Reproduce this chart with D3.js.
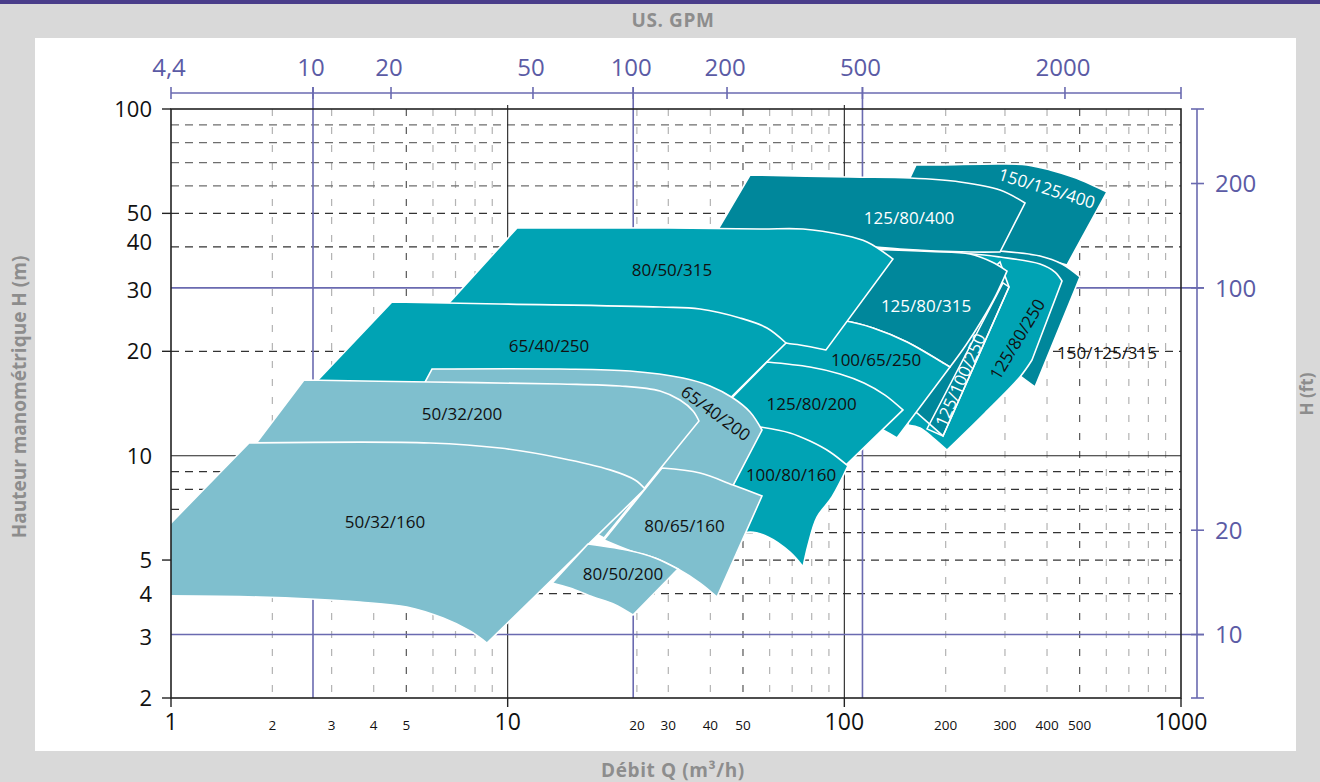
<!DOCTYPE html>
<html><head><meta charset="utf-8">
<script src="https://cdn.jsdelivr.net/npm/d3@7"></script>
<style>
html,body{margin:0;padding:0;background:#d9d9d9;}
svg{display:block;font-family:"Open Sans","Noto Sans",sans-serif;}
</style></head><body>
<svg id="chart" width="1320" height="782"></svg>
<script>
// ---------------- DATA ----------------
const xMinorGrid = [2,3,4,5,6,7,8,9, 24.2,30,40,50,60,70,80,90, 200,300,400,500,600,700,800,900];
const xDarkGrid = [5,50,500];
const xMajorLines = [10,100];
const xMajorLabels = [1,10,100,1000];
const xMinorLabelQ = [2,3,4,5,24.2,30,40,50,200,300,400,500];
const xMinorLabelText = ["2","3","4","5","20","30","40","50","200","300","400","500"];
const yDashed = [90,80,70,60,50,40,20,9,8,7,6,5,4];
const yLightDashed = [90,80,70,60];
const ySolid = [10];
const yLabels = [100,50,40,30,20,10,5,4,3,2];
const yTickMarks = [100,50,20,5,2];
const gpmLabels = ["4,4","10","20","50","100","200","500","2000"];
const gpmAtQ = [1,2.641,4.503,11.89,23.6,44.83,113.2,452.2];   // positions (m3/h)
const gpmFullLines = [2.641,23.6,113.2];                         // 10, 100, 500 GPM
const ftTicks = [200,100,20,10];
const ftFullLines = [100,10];
const metresPerFoot = 0.3048;

// pump envelopes: edges [top, right, bottom...] in (Q m3/h, H m); closed back to start
const env_150_125_400 = [
  [[163.3,68.96],[192.4,68.96],[290,69.4],[348.8,68.96],[408.2,66.7],[477.7,63.64],[536.6,60.8],[602.9,57.64]],
  [[602.9,57.64],[458.5,35.48]],
  [[458.5,35.48],[381.2,37.18],[290,38.17],[136.6,47.84]]];
const env_150_125_315 = [
  [[220.6,39.46],[290,38.94],[381.2,37.66],[443.1,35.71],[501.2,32.77]],
  [[501.2,32.77],[368.4,15.78]],
  [[368.4,15.78],[332.4,16.98],[290,18.88],[220.6,23.04]]];
const env_125_80_400 = [
  [[52.47,64.5],[103.9,63.64],[156.7,63.24],[220.6,61.6],[290,58.37],[344.1,53.55]],
  [[344.1,53.55],[290,38.68]],
  [[290,38.68],[236.2,38.68],[146.3,39.46],[124.2,40.0],[73.84,40.53],[37.27,36.68]]];
const env_125_80_250 = [
  [[179.7,38.17],[241.2,38.17],[290,37.41],[381.2,35.71],[422.4,33.86],[443.1,31.91]],
  [[443.1,31.91],[360.9,18.88]],
  [[360.9,18.88],[332.4,16.87],[261.7,13.28],[201.8,10.38]],
  [[201.8,10.38],[182.2,11.32],[167.8,12.02],[154.5,12.26]]];
const env_125_100_250 = [
  [[290,36.19],[308.4,30.66]],
  [[308.4,30.66],[196.4,11.40]],
  [[196.4,11.40],[164.4,13.28]],
  [[164.4,13.28],[146.3,14.47],[220.6,28.12]]];
const inner_125_100_250 = [[296.0,31.50],[308.4,30.66],[196.4,11.40],[176.0,11.94]];
const env_125_80_315 = [
  [[101.1,39.46],[124.2,39.32],[179.7,38.82],[236.2,38.17],[274.5,36.19],[304.2,34.08]],
  [[304.2,34.08],[282.2,29.07],[256.4,24.63],[229.8,20.86],[206.0,18.02]],
  [[206.0,18.02],[153.5,21.28],[121.7,23.36],[101.1,24.47],[90.66,24.63]]];
const env_100_65_250 = [
  [[73.84,24.96],[101.1,24.47],[121.7,23.36],[153.5,21.28],[196.4,18.51],[206.0,18.02]],
  [[206.0,18.02],[143.3,11.25]],
  [[143.3,11.25],[130.2,11.86],[97.07,13.55],[48.98,16.53]]];
const env_80_50_315 = [
  [[10.66,45.37],[28.35,45.37],[56.17,45.07],[75.40,45.07],[99.1,43.31],[116.8,41.35],[139.5,36.92]],
  [[139.5,36.92],[88.2,20.18]],
  [[88.2,20.18],[73.84,20.86],[67.10,21.14],[37.27,24.63],[5.49,22.29]]];
const env_65_40_250 = [
  [[4.53,27.76],[9.49,27.39],[28.35,26.85],[37.27,26.49],[48.98,24.96],[58.92,23.36],[67.10,21.14]],
  [[67.10,21.14],[37.27,12.02]],
  [[37.27,12.02],[9.49,12.68],[2.40,14.47]]];
const env_125_80_200 = [
  [[58.92,18.63],[79.07,18.02],[97.07,17.21],[114.4,16.21],[132.1,14.96],[149.3,13.55]],
  [[149.3,13.55],[101.1,9.40]],
  [[101.1,9.40],[79.07,10.74],[64.42,11.63],[56.17,12.02],[42.72,13.55]]];
const env_100_80_160 = [
  [[56.17,12.10],[68.96,11.63],[79.07,11.02],[90.66,10.25],[102.5,9.34]],
  [[102.5,9.34],[91.91,7.60],[82.96,6.65],[78.01,5.52],[75.40,4.78]],
  [[75.40,4.78],[68.96,5.27],[59.33,5.83],[52.47,6.02],[42.72,5.71]],
  [[42.72,5.71],[46.70,8.23]]];
const env_65_40_200 = [
  [[5.96,17.78],[14.30,17.78],[23.09,17.55],[33.18,16.75],[39.90,15.89],[46.70,14.67],[52.47,13.37],[56.94,11.86]],
  [[56.94,11.86],[41.28,6.52]],
  [[41.28,6.52],[26.47,8.51],[9.49,12.68],[5.13,13.55]]];
const env_50_32_200 = [
  [[2.483,16.53],[5.88,16.31],[14.30,16.10],[21.56,15.89],[28.35,15.37],[32.50,14.47],[35.52,13.46],[37.01,12.59]],
  [[37.01,12.59],[19.32,5.79]],
  [[19.32,5.79],[17.56,6.07],[14.30,6.61],[4.79,9.10],[1.560,9.10]]];
const env_50_32_160 = [
  [[1.705,10.88],[5.88,10.88],[9.49,10.52],[14.30,9.85],[20.14,9.10],[23.89,8.51],[25.58,8.02]],
  [[25.58,8.02],[8.68,2.88]],
  [[8.68,2.88],[7.73,3.12],[6.43,3.40],[5.02,3.66],[3.64,3.78],[2.59,3.86],[1.838,3.91],[1,3.94],[0.615,3.94]]];
const env_80_65_160 = [
  [[28.73,9.21],[37.27,8.91],[46.70,8.23],[56.94,7.65]],
  [[56.94,7.65],[41.86,3.91]],
  [[41.86,3.91],[37.27,4.29],[32.05,4.71],[27.40,5.07],[23.25,5.31],[19.32,5.71]]];
const env_80_50_200 = [
  [[17.32,5.56],[23.25,5.31],[27.40,5.07],[32.05,4.71]],
  [[32.05,4.71],[23.56,3.47]],
  [[23.56,3.47],[20.69,3.73],[17.93,3.91],[15.31,4.15],[13.54,4.29]]];

// drawing order: back to front
const pumpNames = ["150/125/400","150/125/315","125/80/400","125/80/250","125/100/250","125/80/315","100/65/250","80/50/315","65/40/250","125/80/200","100/80/160","65/40/200","50/32/200","50/32/160","80/65/160","80/50/200"];
const pumpFamily = ["dark","dark","dark","teal","dark","dark","teal","teal","teal","teal","teal","light","light","light","light","light"];
const pumpEnvelopes = [env_150_125_400,env_150_125_315,env_125_80_400,env_125_80_250,env_125_100_250,env_125_80_315,env_100_65_250,env_80_50_315,env_65_40_250,env_125_80_200,env_100_80_160,env_65_40_200,env_50_32_200,env_50_32_160,env_80_65_160,env_80_50_200];

// labels
const labelText  = ["50/32/160","50/32/200","65/40/250","80/50/315","125/80/400","150/125/400","125/80/315","100/65/250","125/80/200","100/80/160","65/40/200","80/65/160","80/50/200","125/100/250","125/80/250","150/125/315"];
const labelQ     = [4.32,7.32,13.27,30.76,155.6,399.9,174.8,124.2,79.93,69.44,41.57,33.51,22.01,220.6,325.6,603];
const labelH     = [6.48,13.19,20.72,34.33,48.8,59.17,27.2,18.88,14.10,8.80,13.28,6.31,4.56,16.53,21.71,19.78];
const labelAngle = [0,0,0,0,0,17,0,0,0,0,36,0,0,-66,-59,0];
const labelOnDark= [0,0,0,0,1,1,1,0,0,0,0,0,0,1,0,0];

// ---------------- DRAW ----------------
const svg = d3.select("#chart");
const x = d3.scaleLog().domain([1,1000]).range([171,1181]);
const y = d3.scaleLog().domain([2,100]).range([698,109]);
const yFt = d3.scaleLog().domain([2/metresPerFoot,100/metresPerFoot]).range([698,109]);
const familyColor = d3.scaleOrdinal().domain(["light","teal","dark"]).range(["#7fbfce","#00a3b4","#00879b"]);
const purple = "#6a6ab0", purpleText = "#5b5ba5", titleGray = "#8d8d8d";

svg.append("rect").attr("x",0).attr("y",0).attr("width",1320).attr("height",782).attr("fill","#d9d9d9");
svg.append("rect").attr("x",0).attr("y",0).attr("width",1320).attr("height",4).attr("fill","#4a3d8a");
svg.append("rect").attr("x",35).attr("y",38).attr("width",1261).attr("height",713).attr("fill","#fff");

const X0 = x(1), X1 = x(1000), Y0 = y(2), Y1 = y(100);

svg.append("clipPath").attr("id","plotclip").append("rect")
  .attr("x",X0).attr("y",Y1).attr("width",X1-X0).attr("height",Y0-Y1);

const grid = svg.append("g");
grid.selectAll("line.vg").data(xMinorGrid).join("line")
  .attr("x1",d=>x(d)).attr("x2",d=>x(d)).attr("y1",Y1).attr("y2",Y0)
  .attr("stroke",d=>xDarkGrid.includes(d)?"#555":"#b3b3b3")
  .attr("stroke-width",1.2).attr("stroke-dasharray","7,11");
grid.selectAll("line.hg").data(yDashed).join("line")
  .attr("x1",X0).attr("x2",X1).attr("y1",d=>y(d)).attr("y2",d=>y(d))
  .attr("stroke",d=>yLightDashed.includes(d)?"#6e6e6e":"#333")
  .attr("stroke-width",1.2).attr("stroke-dasharray","8,6");
grid.selectAll("line.hs").data(ySolid).join("line")
  .attr("x1",X0).attr("x2",X1).attr("y1",d=>y(d)).attr("y2",d=>y(d))
  .attr("stroke","#222").attr("stroke-width",1.1);
grid.selectAll("line.vs").data(xMajorLines).join("line")
  .attr("x1",d=>x(d)).attr("x2",d=>x(d)).attr("y1",Y1-4).attr("y2",Y0)
  .attr("stroke","#222").attr("stroke-width",1.1);
grid.selectAll("line.pv").data(gpmFullLines).join("line")
  .attr("x1",d=>x(d)).attr("x2",d=>x(d)).attr("y1",87).attr("y2",Y0)
  .attr("stroke",purple).attr("stroke-width",1.6);
grid.selectAll("line.ph").data(ftFullLines).join("line")
  .attr("x1",X0).attr("x2",1204).attr("y1",d=>yFt(d)).attr("y2",d=>yFt(d))
  .attr("stroke",purple).attr("stroke-width",1.6);

// pump envelopes
const lineGen = d3.line().x(d=>x(d[0])).y(d=>y(d[1])).curve(d3.curveCatmullRom.alpha(0.5));
function envelopePath(edges){
  return edges.map((e,i)=>{ const s = lineGen(e); return i===0 ? s : "L"+s.slice(1); }).join("") + "Z";
}
const shapes = svg.append("g").attr("clip-path","url(#plotclip)");
pumpEnvelopes.forEach((env,i)=>{
  shapes.append("path").attr("d",envelopePath(env))
    .attr("fill",familyColor(pumpFamily[i])).attr("stroke","#fff")
    .attr("stroke-width",1.6).attr("stroke-linejoin","miter")
    .attr("data-pump",pumpNames[i]);
  if(pumpNames[i]==="125/100/250"){
    shapes.append("path").attr("d",d3.line().x(d=>x(d[0])).y(d=>y(d[1]))(inner_125_100_250)+"Z")
      .attr("fill","none").attr("stroke","#fff").attr("stroke-width",1.5);
  }
});

// pump labels
svg.append("g").selectAll("text").data(labelText).join("text")
  .attr("transform",(d,i)=>`translate(${x(labelQ[i])},${y(labelH[i])}) rotate(${labelAngle[i]})`)
  .attr("text-anchor","middle").attr("dominant-baseline","central")
  .attr("font-size",17).attr("fill",(d,i)=>labelOnDark[i]?"#fff":"#111")
  .text(d=>d);

// frame
svg.append("rect").attr("x",X0).attr("y",Y1).attr("width",X1-X0).attr("height",Y0-Y1)
  .attr("fill","none").attr("stroke","#222").attr("stroke-width",1.6);

// left axis
svg.selectAll("line.lt").data(yTickMarks).join("line")
  .attr("x1",X0-9).attr("x2",X0).attr("y1",d=>y(d)).attr("y2",d=>y(d))
  .attr("stroke","#222").attr("stroke-width",1.4);
svg.append("g").selectAll("text").data(yLabels).join("text")
  .attr("x",152).attr("y",d=>y(d)+(d===40?-5:0)).attr("dy","0.36em")
  .attr("text-anchor","end").attr("font-size",22).attr("fill","#111").text(d=>d);

// bottom axis
svg.selectAll("line.bt").data(xMajorLabels).join("line")
  .attr("x1",d=>x(d)).attr("x2",d=>x(d)).attr("y1",Y0).attr("y2",Y0+9)
  .attr("stroke","#222").attr("stroke-width",1.4);
svg.append("g").selectAll("text").data(xMajorLabels).join("text")
  .attr("x",d=>x(d)).attr("y",730).attr("text-anchor","middle")
  .attr("font-size",23).attr("fill","#111").text(d=>d);
svg.append("g").selectAll("text").data(xMinorLabelQ).join("text")
  .attr("x",d=>x(d)).attr("y",730).attr("text-anchor","middle")
  .attr("font-size",13.5).attr("fill","#111").text((d,i)=>xMinorLabelText[i]);

// top GPM axis
svg.append("line").attr("x1",X0).attr("x2",X1).attr("y1",93).attr("y2",93)
  .attr("stroke",purple).attr("stroke-width",1.6);
svg.selectAll("line.gt").data(gpmAtQ.concat([1000])).join("line")
  .attr("x1",d=>x(d)).attr("x2",d=>x(d)).attr("y1",87).attr("y2",99)
  .attr("stroke",purple).attr("stroke-width",1.6);
svg.append("g").selectAll("text").data(gpmLabels).join("text")
  .attr("x",(d,i)=>x(gpmAtQ[i])-2).attr("y",76).attr("text-anchor","middle")
  .attr("font-size",24).attr("fill",purpleText).text(d=>d);

// right ft axis
svg.append("line").attr("x1",1197).attr("x2",1197).attr("y1",Y1).attr("y2",Y0)
  .attr("stroke",purple).attr("stroke-width",1.6);
svg.selectAll("line.rc").data([Y1,Y0]).join("line")
  .attr("x1",1191).attr("x2",1204).attr("y1",d=>d).attr("y2",d=>d)
  .attr("stroke",purple).attr("stroke-width",1.6);
svg.selectAll("line.rt").data(ftTicks).join("line")
  .attr("x1",1191).attr("x2",1204).attr("y1",d=>yFt(d)).attr("y2",d=>yFt(d))
  .attr("stroke",purple).attr("stroke-width",1.6);
svg.append("g").selectAll("text").data(ftTicks).join("text")
  .attr("x",1215).attr("y",d=>yFt(d)).attr("dy","0.36em")
  .attr("font-size",24).attr("fill",purpleText).text(d=>d);

// titles
svg.append("text").attr("x",673).attr("y",27).attr("text-anchor","middle")
  .attr("font-size",19).attr("font-weight","bold").attr("letter-spacing",0.6).attr("fill",titleGray).text("US. GPM");
svg.append("text").attr("x",673).attr("y",777).attr("text-anchor","middle")
  .attr("font-size",19).attr("font-weight","bold").attr("letter-spacing",0.6).attr("fill",titleGray).text("Débit Q (m³/h)");
svg.append("text").attr("transform","translate(26,397) rotate(-90)").attr("text-anchor","middle")
  .attr("font-size",19).attr("font-weight","bold").attr("fill",titleGray).text("Hauteur manométrique H (m)");
svg.append("text").attr("transform","translate(1313,394) rotate(-90)").attr("text-anchor","middle")
  .attr("font-size",17).attr("font-weight","bold").attr("fill",titleGray).text("H (ft)");
</script></body></html>
